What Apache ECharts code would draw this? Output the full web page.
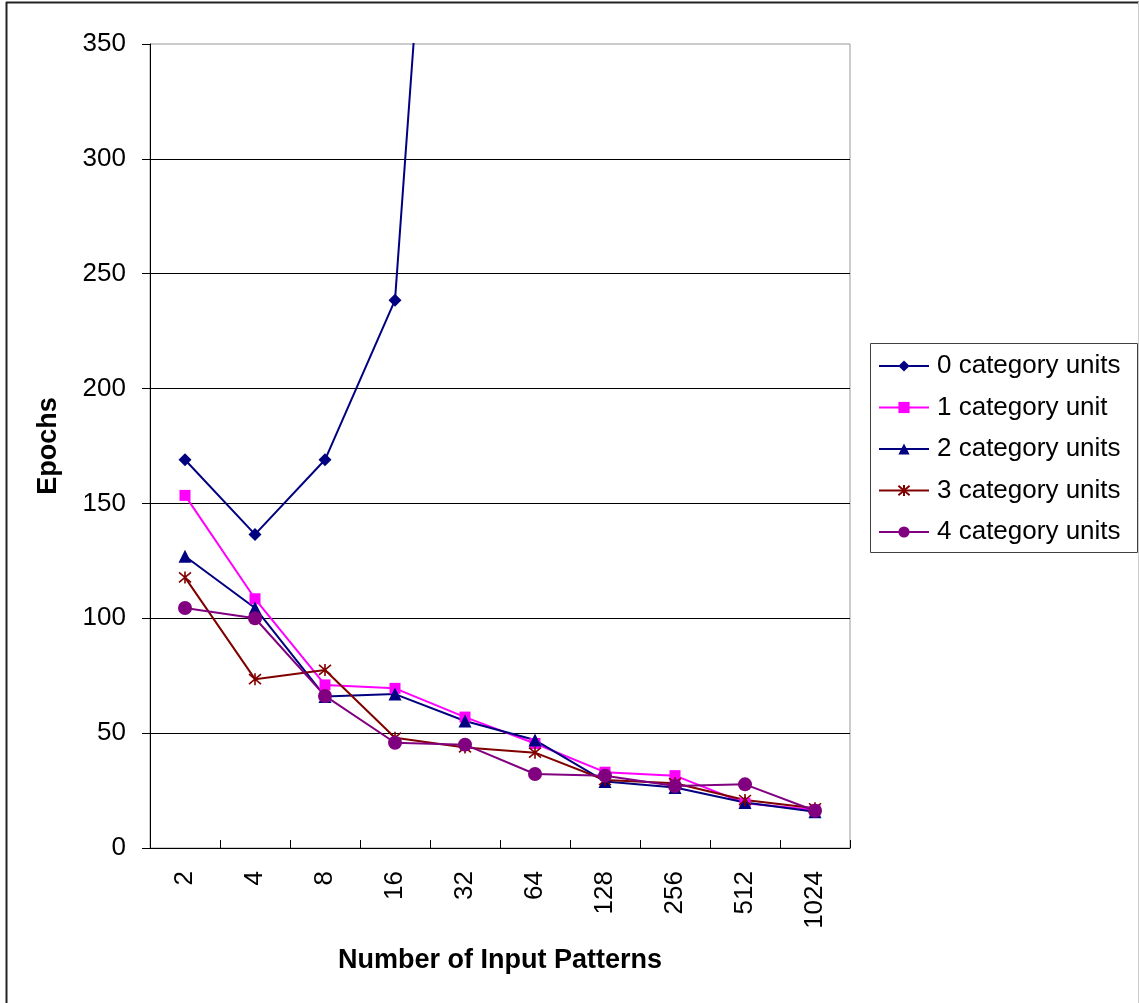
<!DOCTYPE html>
<html>
<head>
<meta charset="utf-8">
<script src="https://cdn.jsdelivr.net/npm/echarts@6/dist/echarts.min.js"></script>
<style>
html,body{margin:0;padding:0;background:#fff;}
#chart{width:1139px;height:1003px;}
</style>
</head>
<body>
<div id="chart"></div>
<script>
var categories = ['2','4','8','16','32','64','128','256','512','1024'];
var seriesNames = ['0 category units','1 category unit','2 category units','3 category units','4 category units'];
var units0 = [169, 136.5, 169, 238.5, 660, null, null, null, null, null];
var units1 = [153.5, 108.5, 71, 69.5, 57, 45.5, 33, 31.5, 19.5, 16.5];
var units2 = [127, 104.5, 66, 67, 55.3, 47, 29, 26.3, 19.8, 15.8];
var units3 = [117.8, 73.5, 77.5, 48, 43.8, 41.5, 29.6, 28.2, 20.9, 17.3];
var units4 = [104.5, 100, 66.2, 45.8, 45, 32.2, 31.5, 27, 27.7, 16.2];
var yTicks = [0, 50, 100, 150, 200, 250, 300, 350];

var FONT = 'Liberation Sans, Arial, sans-serif';
var starPath = 'path://M-1,-1L1,1M-1,1L1,-1M0,-1.2L0,1.2';

function mk(name, data, color, symbol, size, extra) {
  var s = {
    name: name, type: 'line', data: data,
    symbol: symbol, symbolSize: size, showAllSymbol: true,
    lineStyle: {color: color, width: 2},
    itemStyle: {color: color},
    connectNulls: false
  };
  if (extra) { for (var k in extra) s[k] = extra[k]; }
  return s;
}

var chart = echarts.init(document.getElementById('chart'), null, {renderer: 'canvas'});
chart.setOption({
  animation: false,
  backgroundColor: '#fff',
  textStyle: {fontFamily: FONT},
  grid: {left: 150, top: 44, right: 289, bottom: 155, show: true, borderColor: '#999', borderWidth: 1},
  legend: {
    orient: 'vertical', left: 868, top: 341,
    padding: [12, 10, 5, 10],
    itemWidth: 50, itemHeight: 14, itemGap: 15.5,
    textStyle: {fontFamily: FONT, fontSize: 26, color: '#000', lineHeight: 26, padding: [0, 0, 0, 3]},
    data: seriesNames
  },
  xAxis: {
    type: 'category', data: categories, boundaryGap: true,
    name: 'Number of Input Patterns', nameLocation: 'middle', nameGap: 99,
    nameTextStyle: {fontFamily: FONT, fontSize: 27, fontWeight: 'bold', color: '#000'},
    axisLine: {lineStyle: {color: '#000', width: 1}},
    axisTick: {show: true, inside: true, length: 8, lineStyle: {color: '#000'}},
    axisLabel: {rotate: 90, margin: 23, fontFamily: FONT, fontSize: 26, color: '#000'},
    splitLine: {show: false}
  },
  yAxis: {
    type: 'value', min: 0, max: 350, interval: 50,
    name: 'Epochs', nameLocation: 'middle', nameGap: 88, nameRotate: 90,
    nameTextStyle: {fontFamily: FONT, fontSize: 27, fontWeight: 'bold', color: '#000'},
    axisLine: {show: true, lineStyle: {color: '#000', width: 1}},
    axisTick: {show: true, inside: false, length: 8, lineStyle: {color: '#000'}},
    axisLabel: {margin: 24, fontFamily: FONT, fontSize: 26, color: '#000',
      formatter: function (v) { return yTicks.indexOf(v) >= 0 ? String(v) : ''; }},
    splitLine: {show: true, showMinLine: false, showMaxLine: false, lineStyle: {color: '#000', width: 1}}
  },
  graphic: [
    {type: 'rect', left: 868, top: 341, z: -1, silent: true,
     shape: {x: 0, y: 0, width: 267, height: 209},
     style: {fill: 'none', stroke: '#404040', lineWidth: 1}},
    {type: 'line', silent: true, shape: {x1: 6.5, y1: 2, x2: 6.5, y2: 1003}, style: {stroke: '#222', lineWidth: 2}},
    {type: 'line', silent: true, shape: {x1: 6, y1: 2.5, x2: 1139, y2: 2.5}, style: {stroke: '#222', lineWidth: 2}},
    {type: 'line', silent: true, shape: {x1: 1138.5, y1: 2, x2: 1138.5, y2: 1003}, style: {stroke: '#ccc', lineWidth: 1}}
  ],
  series: [
    mk(seriesNames[0], units0, '#000080', 'diamond', 13),
    mk(seriesNames[1], units1, '#FF00FF', 'rect', 11),
    mk(seriesNames[2], units2, '#000080', 'triangle', 13),
    mk(seriesNames[3], units3, '#800000', starPath, 12, {itemStyle: {color: '#800000', borderColor: '#800000', borderWidth: 1.6}}),
    mk(seriesNames[4], units4, '#800080', 'circle', 14)
  ]
});
</script>
</body>
</html>
